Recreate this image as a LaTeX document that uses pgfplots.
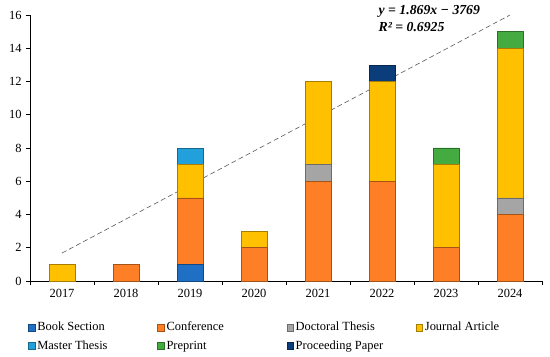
\documentclass[border=0pt]{standalone}
\usepackage{pgfplots}
\pgfplotsset{compat=1.18}
\usepackage{fontspec}
\setmainfont{Liberation Serif}
\definecolor{cBook}{HTML}{1F6FC5}
\definecolor{cConf}{HTML}{FF7F27}
\definecolor{cDoc}{HTML}{A5A5A5}
\definecolor{cJour}{HTML}{FFC000}
\definecolor{cMast}{HTML}{22A0DC}
\definecolor{cPre}{HTML}{43AB3F}
\definecolor{cProc}{HTML}{0B3D7A}
\newcommand{\lf}{\fontsize{12.5}{15}\selectfont}
\newcommand{\ef}{\fontsize{13.8}{16}\selectfont}
\begin{document}
\lf
\begin{tikzpicture}
\begin{axis}[
  scale only axis, width=512bp, height=266bp,
  xmin=-0.5, xmax=7.5, ymin=0, ymax=16,
  ybar stacked, bar width=26bp,
  axis x line=bottom, axis y line=left,
  axis line style={-, black, line width=0.8pt},
  xtick={0,...,7},
  xticklabels={2017,2018,2019,2020,2021,2022,2023,2024},
  minor xtick={-0.5,0.5,...,7.5},
  major x tick style={draw=none},
  ytick={0,2,...,16},
  tick align=outside,
  major tick length=4bp, minor tick length=4bp,
  tick style={black, line width=0.8pt},
  every tick label/.append style={font=\lf},
  /pgf/number format/assume math mode=true,
  clip=false,
  legend columns=4,
  legend cell align=left,
  legend style={draw=none, fill=none, font=\lf,
    at={(axis description cs:0,0)}, anchor=north west,
    xshift=-5bp, yshift=-37bp, row sep=4bp,
    /tikz/every even column/.append style={column sep=0pt}},
  legend image code/.code={\draw[#1, line width=0.6pt] (0bp,-3.3bp) rectangle (6.6bp,3.3bp);},
]
\addplot[fill=cBook, draw=cBook!65!black, line width=0.6pt] coordinates {(0,0) (1,0) (2,1) (3,0) (4,0) (5,0) (6,0) (7,0)};
\addlegendentry{\makebox[118bp][l]{Book Section}}
\addplot[fill=cConf, draw=cConf!65!black, line width=0.6pt] coordinates {(0,0) (1,1) (2,4) (3,2) (4,6) (5,6) (6,2) (7,4)};
\addlegendentry{\makebox[118bp][l]{Conference}}
\addplot[fill=cDoc, draw=cDoc!65!black, line width=0.6pt] coordinates {(0,0) (1,0) (2,0) (3,0) (4,1) (5,0) (6,0) (7,1)};
\addlegendentry{\makebox[118bp][l]{Doctoral Thesis}}
\addplot[fill=cJour, draw=cJour!65!black, line width=0.6pt] coordinates {(0,1) (1,0) (2,2) (3,1) (4,5) (5,6) (6,5) (7,9)};
\addlegendentry{Journal Article}
\addplot[fill=cMast, draw=cMast!65!black, line width=0.6pt] coordinates {(0,0) (1,0) (2,1) (3,0) (4,0) (5,0) (6,0) (7,0)};
\addlegendentry{\makebox[118bp][l]{Master Thesis}}
\addplot[fill=cPre, draw=cPre!65!black, line width=0.6pt] coordinates {(0,0) (1,0) (2,0) (3,0) (4,0) (5,0) (6,1) (7,1)};
\addlegendentry{\makebox[118bp][l]{Preprint}}
\addplot[fill=cProc, draw=cProc!65!black, line width=0.6pt] coordinates {(0,0) (1,0) (2,0) (3,0) (4,0) (5,1) (6,0) (7,0)};
\addlegendentry{\makebox[118bp][l]{Proceeding Paper}}
\addplot[sharp plot, stack plots=false, no markers, forget plot, draw=black!65, line width=0.6pt, dash pattern=on 5bp off 3bp] coordinates {(0,1.68) (7,16)};
\node[anchor=base west, font=\ef\bfseries\itshape] at (axis cs:4.88,16.0) {y = 1.869x − 3769};
\node[anchor=base west, font=\ef\bfseries\itshape] at (axis cs:4.88,14.98) {R² = 0.6925};
\end{axis}
\pgfresetboundingbox
\path[use as bounding box] (-30bp,-76bp) rectangle (520bp,281bp);
\end{tikzpicture}
\end{document}
